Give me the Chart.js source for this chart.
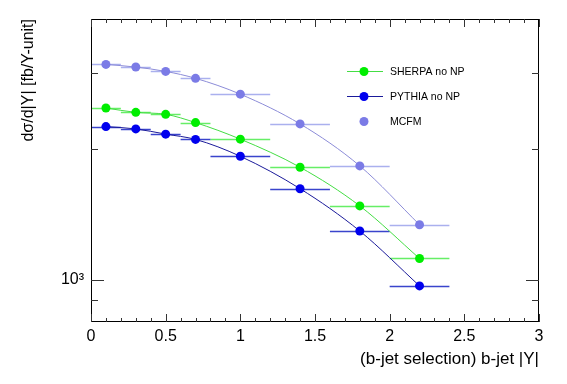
<!DOCTYPE html>
<html>
<head>
<meta charset="utf-8">
<script src="https://cdn.jsdelivr.net/npm/chart.js@4.4.0/dist/chart.umd.min.js"></script>
<style>
  html, body { margin: 0; padding: 0; background: #fff; }
  #wrap { width: 567px; height: 384px; }
</style>
</head>
<body>
<div id="wrap"><canvas id="chart" width="567" height="384"></canvas></div>
<script>
// bin centres and edges of b-jet |Y|
const binCentres = [0.1, 0.3, 0.5, 0.7, 1.0, 1.4, 1.8, 2.2];
const binLow     = [0.0, 0.2, 0.4, 0.6, 0.8, 1.2, 1.6, 2.0];
const binHigh    = [0.2, 0.4, 0.6, 0.8, 1.2, 1.6, 2.0, 2.4];

// dsigma/d|Y| [fb/Y-unit]
const sherpaValues = [2493, 2436, 2411, 2307, 2113, 1820, 1482, 1121];
const pythiaValues = [2259, 2231, 2170, 2110, 1929, 1624, 1297, 969];
const mcfmValues   = [3143, 3099, 3028, 2919, 2683, 2291, 1833, 1341];

const seriesLabels = ['SHERPA no NP', 'PYTHIA no NP', 'MCFM'];

// axis ticks
const xMajorTicks = [0, 0.5, 1, 1.5, 2, 2.5, 3];
const yTickValues = [900, 1000, 2000, 3000];
const yMajorTick = 1000;

const FONT = "'Liberation Sans', Arial, Helvetica, sans-serif";

const STYLE = [
    { marker: '#00ee00', line: '#44dd44', bar: '#66ee66' },
    { marker: '#0000ee', line: '#1a1a9a', bar: '#3a44cc' },
    { marker: '#7b7be6', line: '#8c8cd8', bar: '#aab0ee' }
];

function toPoints(values) {
    return values.map((v, i) => ({ x: binCentres[i], y: v }));
}

function makeDataset(label, values, style) {
    return {
        label: label,
        data: toPoints(values),
        borderColor: style.line,
        backgroundColor: style.marker,
        pointBackgroundColor: style.marker,
        pointBorderColor: style.marker,
        pointRadius: 4.5,
        pointBorderWidth: 0,
        borderWidth: 1,
        cubicInterpolationMode: 'monotone',
        fill: false
    };
}

// horizontal bin-width bars
const binBars = {
    id: 'binBars',
    beforeDatasetsDraw(chart) {
        const ctx = chart.ctx;
        const xs = chart.scales.x, ys = chart.scales.y;
        ctx.save();
        ctx.lineWidth = 1.5;
        chart.data.datasets.forEach((ds, di) => {
            ctx.strokeStyle = STYLE[di].bar;
            ds.data.forEach((p, i) => {
                const y = Math.round(ys.getPixelForValue(p.y)) + 0.5;
                ctx.beginPath();
                ctx.moveTo(xs.getPixelForValue(binLow[i]), y);
                ctx.lineTo(xs.getPixelForValue(binHigh[i]), y);
                ctx.stroke();
            });
        });
        ctx.restore();
    }
};

// ROOT-like frame, inward ticks, axis titles and legend
const frame = {
    id: 'frame',
    afterDraw(chart) {
        const ctx = chart.ctx;
        const a = chart.chartArea;
        const xs = chart.scales.x, ys = chart.scales.y;
        ctx.save();
        ctx.strokeStyle = '#000';
        ctx.lineWidth = 1;
        ctx.strokeRect(a.left + 0.5, a.top + 0.5, a.right - a.left - 1, a.bottom - a.top - 1);

        ctx.strokeStyle = '#333';
        ctx.beginPath();
        for (let k = 0; k <= 30; k++) {
            const v = k / 10;
            const major = k % 5 === 0;
            const len = major ? 8 : 4;
            const x = Math.round(xs.getPixelForValue(v)) + 0.5;
            ctx.moveTo(x, a.bottom); ctx.lineTo(x, a.bottom - len);
            ctx.moveTo(x, a.top); ctx.lineTo(x, a.top + len);
        }
        yTickValues.forEach(v => {
            const len = v === yMajorTick ? 13 : 7;
            const y = Math.round(ys.getPixelForValue(v)) + 0.5;
            ctx.moveTo(a.left, y); ctx.lineTo(a.left + len, y);
            ctx.moveTo(a.right, y); ctx.lineTo(a.right - len, y);
        });
        ctx.stroke();

        // axis titles
        ctx.fillStyle = '#000';
        ctx.textAlign = 'right';
        ctx.textBaseline = 'alphabetic';
        ctx.font = '17px ' + FONT;
        ctx.fillText('(b-jet selection) b-jet |Y|', a.right, 364);
        ctx.font = '16px ' + FONT;
        ctx.save();
        ctx.translate(33, a.top);
        ctx.rotate(-Math.PI / 2);
        ctx.fillText('d\u03c3/d|Y| [fb/Y-unit]', 0, 0);
        ctx.restore();

        // legend
        const rows = [71, 96, 121];
        ctx.font = '10.5px ' + FONT;
        ctx.textAlign = 'left';
        ctx.textBaseline = 'middle';
        seriesLabels.forEach((label, i) => {
            const y = rows[i];
            if (i < 2) {
                ctx.strokeStyle = STYLE[i].line;
                ctx.lineWidth = 1;
                ctx.beginPath();
                ctx.moveTo(347, y + 0.5); ctx.lineTo(383, y + 0.5);
                ctx.stroke();
            }
            ctx.fillStyle = STYLE[i].marker;
            ctx.beginPath();
            ctx.arc(364, y + 0.5, 4.5, 0, Math.PI * 2);
            ctx.fill();
            ctx.fillStyle = '#000';
            ctx.fillText(label, 390, y + 1);
        });
        ctx.restore();
    }
};

new Chart(document.getElementById('chart'), {
    type: 'line',
    data: {
        datasets: [
            makeDataset(seriesLabels[0], sherpaValues, STYLE[0]),
            makeDataset(seriesLabels[1], pythiaValues, STYLE[1]),
            makeDataset(seriesLabels[2], mcfmValues, STYLE[2])
        ]
    },
    options: {
        responsive: false,
        animation: false,
        devicePixelRatio: 1,
        layout: { padding: { left: 0, top: 19, right: 28, bottom: 0 } },
        plugins: {
            legend: { display: false },
            tooltip: { enabled: false }
        },
        scales: {
            x: {
                type: 'linear',
                min: 0,
                max: 3,
                grid: { display: false, drawTicks: false },
                border: { display: false },
                afterBuildTicks: scale => {
                    scale.ticks = xMajorTicks.map(v => ({ value: v }));
                },
                afterFit: scale => { scale.height = 62; },
                ticks: {
                    color: '#000',
                    padding: 5,
                    maxRotation: 0,
                    autoSkip: false,
                    font: { family: FONT, size: 16 },
                    callback: v => String(v)
                }
            },
            y: {
                type: 'logarithmic',
                min: 800,
                max: 4000,
                grid: { display: false, drawTicks: false },
                border: { display: false },
                afterBuildTicks: scale => {
                    scale.ticks = yTickValues.map(v => ({ value: v }));
                },
                afterFit: scale => { scale.width = 91; },
                ticks: {
                    color: '#000',
                    padding: 7,
                    autoSkip: false,
                    font: { family: FONT, size: 16 },
                    callback: v => (v === yMajorTick ? '10\u00b3' : '')
                }
            }
        }
    },
    plugins: [binBars, frame]
});
</script>
</body>
</html>
